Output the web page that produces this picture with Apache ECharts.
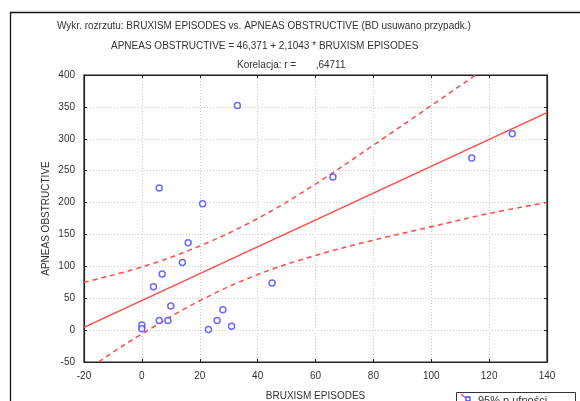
<!DOCTYPE html>
<html>
<head>
<meta charset="utf-8">
<script src="https://cdn.jsdelivr.net/npm/echarts@6/dist/echarts.min.js"></script>
<style>
html,body{margin:0;padding:0;background:#fff;}
#chart{width:580px;height:401px;}
</style>
</head>
<body>
<div id="chart"></div>
<script>
// Scatter data
var bruxism = [16, 14, 7, 4, 10, 6, 9, 0, 0, 23, 26, 28, 31, 45, 33, 6, 21, 66, 114, 128];
var apneas  = [137, 106, 88, 68, 38, 15, 15, 8, 2, 1, 15, 32, 6, 74, 352, 223, 198, 240, 270, 308];

// Regression line endpoints: APNEAS = 46.371 + 2.1043 * BRUXISM
var fitX = [-20, 140];
var fitY = [4.29, 340.97];

// 95% confidence band
var upperX = [-20, 0, 20, 40, 60, 80, 100, 120, 140];
var upperY = [75, 99, 132, 175, 229, 290, 352, 415, 482];
var lowerX = [-20, -15, 0, 20, 40, 60, 80, 100, 120, 140];
var lowerY = [-67, -50, -6, 46, 87, 117, 141, 162, 183, 200];

// Axis ticks
var xTicks = [-20, 0, 20, 40, 60, 80, 100, 120, 140];
var yTicks = [-50, 0, 50, 100, 150, 200, 250, 300, 350, 400];

var titleLines = [
  'Wykr. rozrzutu: BRUXISM EPISODES vs. APNEAS OBSTRUCTIVE (BD usuwano przypadk.)',
  'APNEAS OBSTRUCTIVE = 46,371 + 2,1043 * BRUXISM EPISODES',
  'Korelacja: r =       ,64711'
];
var xName = 'BRUXISM EPISODES';
var yName = 'APNEAS OBSTRUCTIVE';
var legendName = '95% p.ufności';

function zip(a, b) { return a.map(function (v, i) { return [v, b[i]]; }); }

var red = '#ff4a4a';
var blue = '#4646ff';
var font = 'Liberation Sans, Arial, sans-serif';

var chart = echarts.init(document.getElementById('chart'));
chart.setOption({
  animation: false,
  backgroundColor: '#fff',
  title: [
    { text: titleLines[0], left: 52, top: 16, textStyle: { fontFamily: font, fontSize: 10, fontWeight: 'normal', color: '#333' } },
    { text: titleLines[1], left: 106, top: 36, textStyle: { fontFamily: font, fontSize: 10, fontWeight: 'normal', color: '#333' } },
    { text: titleLines[2], left: 232, top: 55, textStyle: { fontFamily: font, fontSize: 10, fontWeight: 'normal', color: '#333' } }
  ],
  grid: { left: 84, right: 33, top: 75, bottom: 39, show: true, borderColor: '#222', borderWidth: 1.2,
          containLabel: false, outerBoundsMode: 'none' },
  xAxis: [{
    type: 'value', min: -20, max: 140, interval: 20,
    name: xName, nameLocation: 'middle', nameGap: 29,
    nameTextStyle: { fontFamily: font, fontSize: 10, color: '#333' },
    axisLine: { show: true, onZero: false, lineStyle: { color: '#222', width: 1.2 } },
    axisTick: { show: true, inside: true, length: 3, lineStyle: { color: '#222' } },
    axisLabel: { fontFamily: font, fontSize: 10, color: '#333', margin: 9 },
    splitLine: { show: true, lineStyle: { color: '#c8c8c8', type: [1, 2], width: 1 } }
  }, {
    type: 'value', position: 'top', min: -20, max: 140, interval: 20,
    axisLine: { show: true, onZero: false, lineStyle: { color: '#222', width: 1.2 } },
    axisTick: { show: true, inside: true, length: 3, lineStyle: { color: '#222' } },
    axisLabel: { show: false }, splitLine: { show: false }
  }],
  yAxis: [{
    type: 'value', min: -50, max: 400, interval: 50,
    name: yName, nameLocation: 'middle', nameGap: 33, nameRotate: 90, nameMoveOverlap: false,
    nameTextStyle: { fontFamily: font, fontSize: 10, color: '#333' },
    axisLine: { show: true, onZero: false, lineStyle: { color: '#222', width: 1.2 } },
    axisTick: { show: true, inside: true, length: 3, lineStyle: { color: '#222' } },
    axisLabel: { fontFamily: font, fontSize: 10, color: '#333', margin: 9 },
    splitLine: { show: true, lineStyle: { color: '#c8c8c8', type: [1, 2], width: 1 } }
  }, {
    type: 'value', position: 'right', min: -50, max: 400, interval: 50,
    axisLine: { show: true, onZero: false, lineStyle: { color: '#222', width: 1.2 } },
    axisTick: { show: true, inside: true, length: 3, lineStyle: { color: '#222' } },
    axisLabel: { show: false }, splitLine: { show: false }
  }],
  series: [
    {
      name: 'upper', type: 'line', data: zip(upperX, upperY), smooth: 0.4, symbol: 'none', clip: true,
      lineStyle: { color: red, width: 1.5, type: [5, 4] }, z: 3
    },
    {
      name: 'lower', type: 'line', data: zip(lowerX, lowerY), smooth: 0.4, symbol: 'none', clip: true,
      lineStyle: { color: red, width: 1.5, type: [5, 4] }, z: 3
    },
    {
      name: 'fit', type: 'line', data: zip(fitX, fitY), symbol: 'none', clip: true,
      lineStyle: { color: red, width: 1.5 }, z: 3
    },
    {
      name: 'points', type: 'scatter', data: zip(bruxism, apneas), symbol: 'circle', symbolSize: 6,
      itemStyle: { color: '#fff', borderColor: blue, borderWidth: 1.5 }, z: 4
    }
  ],
  graphic: [
    { type: 'rect', left: 8, top: 10, shape: { x: 0, y: 0, width: 620, height: 450 },
      style: { fill: 'none', stroke: '#111', lineWidth: 1.3 }, z: 0, silent: true },
    { type: 'rect', shape: { x: 456.5, y: 392.5, width: 119, height: 20 },
      style: { fill: '#fff', stroke: '#333', lineWidth: 1 }, z: 10 },
    { type: 'line', shape: { x1: 461, y1: 394, x2: 468, y2: 400 },
      style: { stroke: red, lineWidth: 1.3 }, z: 11 },
    { type: 'rect', shape: { x: 466, y: 397, width: 4, height: 4 },
      style: { fill: '#fff', stroke: blue, lineWidth: 1.3 }, z: 12 },
    { type: 'text', x: 478, y: 395, style: { text: legendName, font: '11px ' + font, fill: '#333' }, z: 12 }
  ]
});
</script>
</body>
</html>
